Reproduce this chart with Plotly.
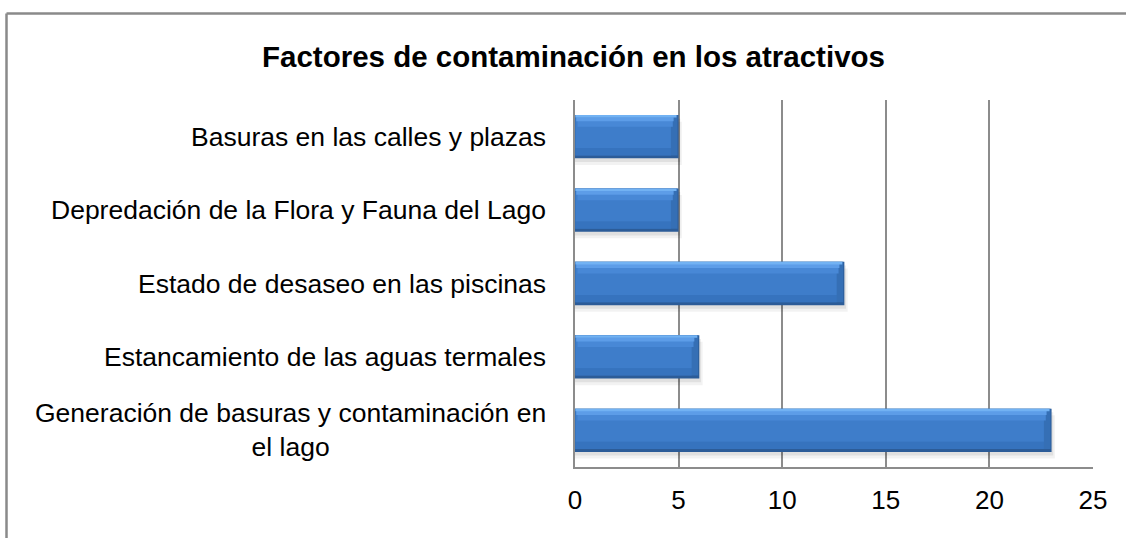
import plotly.graph_objects as go

# ---- data (bottom to top) ----
categories = [
    "Generación de basuras y contaminación en<br>el lago",
    "Estancamiento de las aguas termales",
    "Estado de desaseo en las piscinas",
    "Depredación de la Flora y Fauna del Lago",
    "Basuras en las calles y plazas",
]
values = [23, 6, 13, 5, 5]
x_ticks = [0, 5, 10, 15, 20, 25]
title_text = "Factores de contaminación en los atractivos"

FONT = "Liberation Sans, Arial, sans-serif"
HALF = 0.295  # half bar thickness in category units

fig = go.Figure()


def layer(xs, base, offset, width, color, main=False):
    fig.add_trace(go.Bar(
        y=categories, x=xs, base=base, orientation="h",
        width=width, offset=offset,
        marker=dict(color=color, line=dict(width=0)),
        hoverinfo=None if main else "skip", showlegend=False, name=""))


# soft shadow (two layers)
layer([v + 0.16 for v in values], 0, -HALF - 0.09, 2 * HALF, "rgba(0,0,0,0.05)")
layer([v + 0.08 for v in values], 0, -HALF - 0.05, 2 * HALF, "rgba(0,0,0,0.07)")
# dark base (bottom edge + right edge)
layer(values, 0, -HALF, 2 * HALF, "#2c5c98", main=True)
# right bevel tone
layer([v - 0.05 for v in values], 0, -HALF + 0.04, 2 * HALF - 0.04, "#356fb5")
# lower band
layer([v - 0.4 for v in values], 0.03, -HALF + 0.04, 0.1, "#3673be")
# body
layer([v - 0.4 for v in values], 0.03, -HALF + 0.14, 2 * HALF - 0.14 - 0.04, "#3e7dca")
# upper gradient bands
layer([v - 0.4 for v in values], 0.12, HALF - 0.16, 0.08, "#4888d6")
layer([v - 0.3 for v in values], 0.06, HALF - 0.085, 0.055, "#5d9de8")
layer([v - 0.12 for v in values], 0.02, HALF - 0.035, 0.035, "#72b2f3")

# category labels (centered multi-line, right edge near the axis)
for c in categories:
    fig.add_annotation(
        x=0, xref="paper", xanchor="right", xshift=-27,
        y=c, yref="y", yanchor="middle",
        text=c, showarrow=False, align="center",
        font=dict(family=FONT, size=26.5, color="#000000"))

# plot area in page pixels: x 575..1093, y 100..467
PX0, PX1, PY0, PY1 = 575, 1093, 100, 467
fx = lambda px: (px - PX0) / (PX1 - PX0)
fy = lambda py: (PY1 - py) / (PY1 - PY0)

# outer chart frame (top and left edges visible)
fig.add_shape(type="line", xref="paper", yref="paper",
              x0=fx(6.5), x1=fx(1130), y0=fy(13.5), y1=fy(13.5),
              line=dict(color="#8a8a8a", width=2.5))
fig.add_shape(type="line", xref="paper", yref="paper",
              x0=fx(6.5), x1=fx(6.5), y0=fy(13.5), y1=fy(545),
              line=dict(color="#8a8a8a", width=2.5))

fig.update_layout(
    width=1126, height=538,
    margin=dict(l=PX0, r=1126 - PX1, t=PY0, b=538 - PY1),
    paper_bgcolor="white", plot_bgcolor="white",
    barmode="overlay",
    showlegend=False,
    title=dict(text=title_text, x=573.5 / 1126, xanchor="center", y=1 - 57 / 538, yanchor="middle",
               font=dict(family=FONT, size=29.5, color="#000000", weight="bold")),
    xaxis=dict(range=[0, 25], tickvals=x_ticks, ticktext=[str(t) for t in x_ticks],
               showgrid=True, gridcolor="#8c8c8c", gridwidth=1.5,
               showline=True, linecolor="#8c8c8c", linewidth=2, zeroline=False,
               ticks="", ticklabelstandoff=9,
               tickfont=dict(family=FONT, size=26, color="#000000"), fixedrange=True),
    yaxis=dict(categoryorder="array", categoryarray=categories,
               showticklabels=False, showgrid=False,
               showline=True, linecolor="#8c8c8c", linewidth=2, zeroline=False,
               ticks="", range=[-0.5, 4.5], fixedrange=True),
)

fig.write_html("out.html", config={"displayModeBar": False},
               post_script="document.body.style.margin='0px';document.body.style.overflow='hidden';")
